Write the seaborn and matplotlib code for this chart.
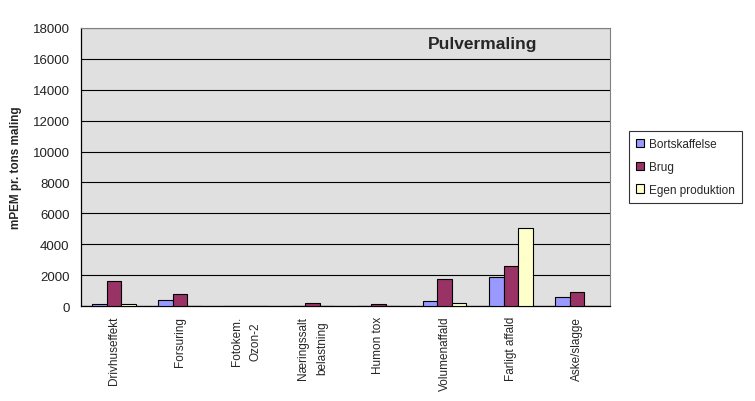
#!/usr/bin/env python

import pandas as pd
import seaborn as sns
import matplotlib.pyplot as plt

# Data
categories = ['Drivhuseffekt', 'Forsuring', 'Fotokem.\nOzon-2', 'Næringssalt\nbelastning',
              'Humon tox', 'Volumenaffald', 'Farligt affald', 'Aske/slagge']
bortskaffelse = [110, 390, 0, 40, 30, 320, 1880, 560]
brug = [1600, 780, 0, 200, 130, 1750, 2570, 910]
egen_produktion = [150, 30, 0, 0, 0, 200, 5050, 30]
series = ['Bortskaffelse', 'Brug', 'Egen produktion']
colors = ['#9999FF', '#993366', '#FFFFCC']

df = pd.DataFrame({'Kategori': categories,
                   'Bortskaffelse': bortskaffelse,
                   'Brug': brug,
                   'Egen produktion': egen_produktion})
long = df.melt(id_vars='Kategori', var_name='Serie', value_name='mPEM')

sns.set_style('white')
plt.rcParams['font.family'] = ['Liberation Sans', 'DejaVu Sans']

fig = plt.figure(figsize=(7.55, 4.02), dpi=100)
ax = fig.add_axes([0.107, 0.236, 0.701, 0.692])
ax.set_facecolor('#E0E0E0')

sns.barplot(data=long, x='Kategori', y='mPEM', hue='Serie', hue_order=series,
            palette=colors, saturation=1, width=0.66, edgecolor='black',
            linewidth=0.8, ax=ax, zorder=3)

ax.set_ylim(0, 18000)
ax.set_yticks(range(0, 18001, 2000))
ax.yaxis.grid(True, color='black', linewidth=0.8, zorder=0)
ax.set_axisbelow(True)
ax.set_xlim(-0.5, len(categories) - 0.5)

# category boundary tick marks, as in the original
ax.set_xticks([i - 0.5 for i in range(len(categories) + 1)], minor=True)
ax.tick_params(axis='x', which='major', length=0, pad=7)
ax.tick_params(axis='x', which='minor', length=5, width=0.8, color='black', direction='out')
ax.tick_params(axis='y', length=5, width=0.8, color='black', direction='out', pad=3)
ax.set_xticklabels(categories, rotation=90, fontsize=8.5, va='top', ha='center',
                   multialignment='center', linespacing=1.8)
ax.tick_params(axis='y', labelsize=9.5, labelcolor='#222222')

ax.set_xlabel('')
ax.set_ylabel('mPEM pr. tons maling', fontsize=8.5, fontweight='bold', labelpad=8)

for side in ['left', 'bottom']:
    ax.spines[side].set_color('black')
    ax.spines[side].set_linewidth(0.9)
for side in ['top', 'right']:
    ax.spines[side].set_color('#808080')
    ax.spines[side].set_linewidth(0.8)

ax.text(0.76, 0.945, 'Pulvermaling', transform=ax.transAxes, fontsize=12.5,
        fontweight='bold', ha='center', va='center')

leg = ax.legend(loc='center left', bbox_to_anchor=(1.024, 0.5), frameon=True,
                fancybox=False, edgecolor='black', fontsize=8.5, handlelength=0.7,
                handleheight=0.7, handletextpad=0.4, borderpad=0.6, labelspacing=0.9)
leg.get_frame().set_linewidth(0.8)

fig.savefig('out.png', dpi=100)
